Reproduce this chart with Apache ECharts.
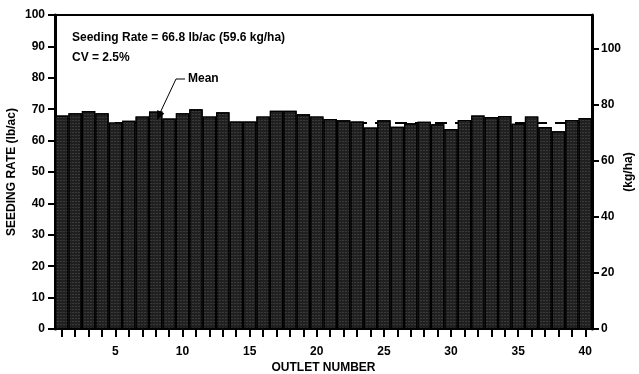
<!DOCTYPE html>
<html>
<head>
<meta charset="utf-8">
<script src="https://cdn.jsdelivr.net/npm/echarts@6/dist/echarts.min.js"></script>
<style>
html,body{margin:0;padding:0;background:#fff;}
#c{width:639px;height:374px;}
</style>
</head>
<body>
<div id="c"></div>
<script>
const outlets = [];
for (let i = 1; i <= 40; i++) outlets.push(String(i));
const seedingRate = [68.0, 68.7, 69.4, 68.7, 65.8, 66.3, 67.7, 69.3, 67.0, 68.7,
                     70.0, 67.7, 69.0, 66.1, 66.1, 67.7, 69.5, 69.5, 68.4, 67.7,
                     66.9, 66.5, 66.1, 64.2, 66.5, 64.4, 65.5, 66.0, 65.2, 63.7,
                     66.6, 68.0, 67.5, 67.8, 65.4, 67.7, 64.3, 63.0, 66.6, 67.2];
const meanLine = 65.7;
const leftTicks = [0,10,20,30,40,50,60,70,80,90,100];
const rightTicks = [0,20,40,60,80,100];
const xLabelShown = ['5','10','15','20','25','30','35','40'];
const annoLines = ['Seeding Rate = 66.8 lb/ac (59.6 kg/ha)', 'CV = 2.5%'];
const meanText = 'Mean';

const FONT = 'Liberation Sans, Arial, sans-serif';
const chart = echarts.init(document.getElementById('c'), null, {renderer:'canvas'});
const lbl = {color:'#000', fontFamily:FONT, fontWeight:'bold', fontSize:12};

chart.setOption({
  animation:false,
  backgroundColor:'#fff',
  grid:{left:55, right:47, top:15, bottom:45, containLabel:false, outerBoundsMode:'none',
        show:true, borderColor:'#000', borderWidth:2, backgroundColor:'transparent'},
  xAxis:{
    type:'category', data:outlets, boundaryGap:true,
    axisLine:{show:true, lineStyle:{color:'#000', width:2}},
    axisTick:{show:true, alignWithLabel:true, interval:0, length:8, lineStyle:{color:'#000', width:2}},
    axisLabel:Object.assign({margin:17, interval:0, formatter:v => xLabelShown.includes(v) ? v : ''}, lbl),
    name:'OUTLET NUMBER', nameLocation:'middle', nameGap:33, nameMoveOverlap:false,
    nameTextStyle:Object.assign({}, lbl)
  },
  yAxis:[{
    type:'value', min:0, max:100, interval:10, position:'left',
    axisLine:{show:true, lineStyle:{color:'#000', width:3}},
    axisTick:{show:true, length:7, lineStyle:{color:'#000', width:2}, customValues:leftTicks},
    axisLabel:Object.assign({margin:10, customValues:leftTicks}, lbl),
    splitLine:{show:false},
    name:'SEEDING RATE (lb/ac)', nameLocation:'middle', nameGap:37, nameRotate:90, nameMoveOverlap:false,
    nameTextStyle:Object.assign({}, lbl)
  },{
    type:'value', min:0, max:112, interval:20, position:'right',
    axisLine:{show:true, lineStyle:{color:'#000', width:3}},
    axisTick:{show:true, length:7, lineStyle:{color:'#000', width:2}, customValues:rightTicks},
    axisLabel:Object.assign({margin:9, customValues:rightTicks}, lbl),
    splitLine:{show:false},
    name:'(kg/ha)', nameLocation:'middle', nameGap:31, nameRotate:90, nameMoveOverlap:false,
    nameTextStyle:Object.assign({}, lbl)
  }],
  series:[{
    type:'line', data:[], z:1, silent:true,
    markLine:{
      silent:true, z:1, symbol:['none','none'], label:{show:false},
      lineStyle:{color:'#000', width:2, type:[12,8]},
      data:[{yAxis:meanLine}]
    }
  },{
    type:'bar', data:seedingRate, z:3, barCategoryGap:'0%',
    itemStyle:{color:'#202020', borderColor:'#000', borderWidth:1.2,
      decal:{symbol:'rect', symbolSize:1, dashArrayX:[[2,1]], dashArrayY:[1,2], color:'rgba(90,90,90,0.45)'}}
  }],
  graphic:[
    {type:'text', left:72, top:32, style:{text:annoLines[0], fill:'#000', font:'bold 12px '+FONT}},
    {type:'text', left:72, top:52, style:{text:annoLines[1], fill:'#000', font:'bold 12px '+FONT}},
    {type:'text', left:188, top:73, style:{text:meanText, fill:'#000', font:'bold 12px '+FONT}},
    {type:'polyline', shape:{points:[[185,79],[176,79],[160,113]]}, style:{stroke:'#000', lineWidth:1, fill:null}, z:100},
    {type:'polygon', shape:{points:[[157,120],[164.4,113.5],[157.2,110.1]]}, style:{fill:'#000'}, z:100}
  ]
});
</script>
</body>
</html>
